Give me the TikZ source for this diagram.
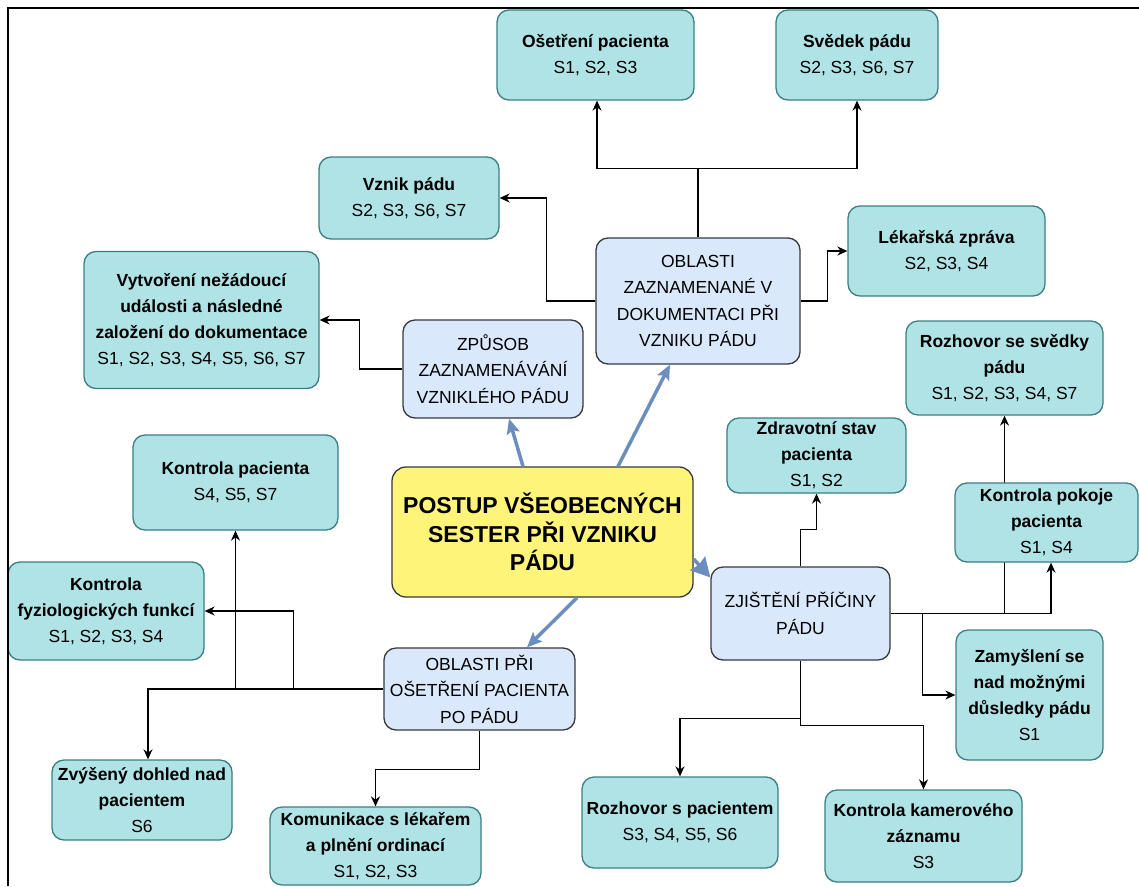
\documentclass[tikz,border=0pt]{standalone}
\usepackage{fontspec}
\setmainfont{Liberation Sans}
\usetikzlibrary{arrows.meta,backgrounds,positioning}
\definecolor{tealfill}{HTML}{B0E3E6}
\definecolor{tealdraw}{HTML}{3B7F82}
\definecolor{bluefill}{HTML}{DAE8FC}
\definecolor{boxdraw}{HTML}{36393D}
\definecolor{yelfill}{HTML}{FFF47A}
\definecolor{arrblue}{HTML}{6C8EBF}
\tikzset{
  tbox/.style={draw=tealdraw, fill=tealfill, line width=1.3pt, rounded corners=12pt,
    align=center, inner sep=2pt, font=\fontsize{17.5}{26}\selectfont},
  bbox/.style={draw=boxdraw, fill=bluefill, line width=1.3pt, rounded corners=12pt,
    align=center, inner sep=2pt, font=\fontsize{17.5}{26.5}\selectfont},
  ybox/.style={draw=boxdraw, fill=yelfill, line width=1.3pt, rounded corners=14pt,
    align=center, inner sep=2pt, font=\fontsize{23}{28.5}\selectfont\bfseries},
  conn/.style={draw=black, line width=1.4pt, -{Stealth[length=10pt,width=9pt]}},
  bconn/.style={draw=arrblue, line width=3.5pt, -{Stealth[length=15pt,width=13pt,inset=3pt]}},
  frameline/.style={draw=black, line width=2pt}
}
\begin{document}
\begin{tikzpicture}[x=1pt,y=-1pt]
\useasboundingbox (0,0) rectangle (1139,886);

% nodes
\node[tbox, minimum width=197pt, minimum height=90pt] (ose) at (595.5,55) {\bfseries Ošetření pacienta\\S1, S2, S3};
\node[tbox, minimum width=162pt, minimum height=90pt] (svedek) at (857,55) {\bfseries Svědek pádu\\S2, S3, S6, S7};
\node[tbox, minimum width=180pt, minimum height=82pt] (vznik) at (409,198) {\bfseries Vznik pádu\\S2, S3, S6, S7};
\node[tbox, minimum width=197pt, minimum height=90pt] (lekar) at (946.5,251) {\bfseries Lékařská zpráva\\S2, S3, S4};
\node[bbox, minimum width=204pt, minimum height=126pt] (oblz) at (698,301) {OBLASTI\\ZAZNAMENANÉ V\\DOKUMENTACI PŘI\\VZNIKU PÁDU};
\node[tbox, minimum width=235pt, minimum height=137pt] (vytv) at (201.5,320) {\bfseries Vytvoření nežádoucí\\\bfseries události a následné\\\bfseries založení do dokumentace\\S1, S2, S3, S4, S5, S6, S7};
\node[bbox, minimum width=180pt, minimum height=98pt] (zpusob) at (493,369) {ZPŮSOB\\ZAZNAMENÁVÁNÍ\\VZNIKLÉHO PÁDU};
\node[tbox, minimum width=197pt, minimum height=94pt] (rozsv) at (1004.5,368) {\bfseries Rozhovor se svědky\\\bfseries pádu\\S1, S2, S3, S4, S7};
\node[tbox, minimum width=179pt, minimum height=75pt] (zdrav) at (816.5,455.5) {\bfseries Zdravotní stav\\\bfseries pacienta\\S1, S2};
\node[tbox, minimum width=205pt, minimum height=95pt] (kpac) at (235.5,482.5) {\bfseries Kontrola pacienta\\S4, S5, S7};
\node[ybox, minimum width=301pt, minimum height=130pt] (main) at (542.5,532) {POSTUP VŠEOBECNÝCH\\SESTER PŘI VZNIKU\\PÁDU};
\node[tbox, minimum width=183pt, minimum height=79pt] (kpok) at (1046.5,522.5) {\bfseries Kontrola pokoje\\\bfseries pacienta\\S1, S4};
\node[tbox, minimum width=196pt, minimum height=98pt] (kfyz) at (106,611) {\bfseries Kontrola\\\bfseries fyziologických funkcí\\S1, S2, S3, S4};
\node[bbox, minimum width=179pt, minimum height=93pt] (zjist) at (800.5,613.5) {ZJIŠTĚNÍ PŘÍČINY\\PÁDU};
\node[tbox, minimum width=147pt, minimum height=130pt] (zamysl) at (1029.5,695) {\bfseries Zamyšlení se\\\bfseries nad možnými\\\bfseries důsledky pádu\\S1};
\node[bbox, minimum width=191pt, minimum height=82pt] (oblpri) at (479.5,689) {OBLASTI PŘI\\OŠETŘENÍ PACIENTA\\PO PÁDU};
\node[tbox, minimum width=180pt, minimum height=80pt] (zvys) at (142,800) {\bfseries Zvýšený dohled nad\\\bfseries pacientem\\S6};
\node[tbox, minimum width=211pt, minimum height=78pt] (komun) at (375.5,846) {\bfseries Komunikace s lékařem\\\bfseries a plnění ordinací\\S1, S2, S3};
\node[tbox, minimum width=196pt, minimum height=91pt] (rozpac) at (680,822.5) {\bfseries Rozhovor s pacientem\\S3, S4, S5, S6};
\node[tbox, minimum width=197pt, minimum height=92pt] (kamer) at (923.5,836) {\bfseries Kontrola kamerového\\\bfseries záznamu\\S3};

% connectors
\begin{pgfonlayer}{background}
\fill[white] (0,0) rectangle (1139,886);
\draw[conn] (oblz.north) -- ++(0,-69) -| ([xshift=1.5pt]ose.south);
\draw[conn] (oblz.north) -- ++(0,-69) -| (svedek.south);
\draw[conn] (oblz.west) -- ++(-49,0) |- (vznik.east);
\draw[conn] (oblz.east) -- ++(27,0) |- (lekar.west);
\draw[conn] (zpusob.west) -- ++(-43,0) |- (vytv.east);
\draw[conn] (oblpri.west) -| ([xshift=6pt]zvys.north);
\draw[conn] (kpac.south |- oblpri.west) -- (kpac.south);
\draw[conn] ([xshift=-90pt]oblpri.west) |- (kfyz.east);
\draw[conn] (oblpri.south) -- ++(0,39) -| (komun.north);
\draw[conn] (zjist.north) -- ++(0,-37) -| (zdrav.south);
\draw[conn] (zjist.east) -| ([xshift=4.5pt]kpok.south);
\draw[conn] (rozsv.south |- zjist.east) -- (rozsv.south);
\draw[conn] ([xshift=32pt]zjist.east) |- (zamysl.west);
\draw[conn] (zjist.south) -- ++(0,58) -| (rozpac.north);
\draw[conn] (zjist.south) -- ++(0,65) -| (kamer.north);
\end{pgfonlayer}

% blue arrows
\draw[bconn] ([xshift=-19.5pt]main.north) -- ([xshift=16pt]zpusob.south);
\draw[bconn] ([xshift=75.5pt]main.north) -- ([xshift=-28pt]oblz.south);
\draw[bconn, -{Stealth[length=19pt,width=20pt,inset=2pt]}] ([yshift=-27pt]main.east) -- ([yshift=36pt]zjist.west);
\draw[bconn] ([xshift=34.5pt]main.south) -- ([xshift=47.5pt]oblpri.north);

% frame
\draw[frameline] (8,886) -- (8,8) -- (1139,8);
\end{tikzpicture}
\end{document}
